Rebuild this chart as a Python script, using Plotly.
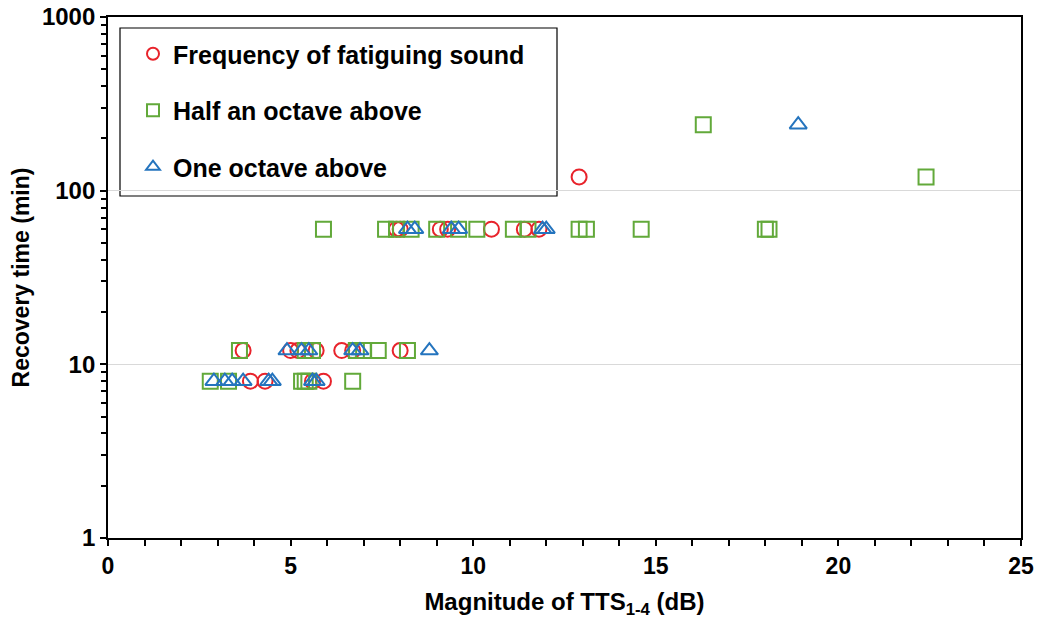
import plotly.graph_objects as go

# Recovery time (min) against TTS magnitude (dB), one list pair per probe frequency
freq_tts = [3.7, 5.0, 5.2, 5.7, 6.4, 6.7, 8.0,
            3.9, 4.3, 5.6, 5.9,
            7.9, 8.0, 9.1, 9.3, 10.5, 11.4, 11.8,
            12.9]
freq_rec = [12, 12, 12, 12, 12, 12, 12,
            8, 8, 8, 8,
            60, 60, 60, 60, 60, 60, 60,
            120]

half_tts = [3.6, 5.4, 5.6, 6.8, 7.0, 7.4, 8.2,
            2.8, 3.3, 5.3, 5.4, 5.5, 6.7,
            5.9, 7.6, 7.9, 8.3, 9.0, 9.6, 10.1, 11.1, 11.5, 12.9, 13.1, 14.6, 18.0, 18.1,
            16.3, 22.4]
half_rec = [12, 12, 12, 12, 12, 12, 12,
            8, 8, 8, 8, 8, 8,
            60, 60, 60, 60, 60, 60, 60, 60, 60, 60, 60, 60, 60, 60,
            240, 120]

oct_tts = [4.9, 5.3, 5.5, 6.7, 6.9, 8.8,
           2.9, 3.2, 3.4, 3.7, 4.4, 4.5, 5.6, 5.7,
           8.2, 8.4, 9.4, 9.6, 11.9, 12.0,
           18.9]
oct_rec = [12, 12, 12, 12, 12, 12,
           8, 8, 8, 8, 8, 8, 8, 8,
           60, 60, 60, 60, 60, 60,
           240]

series_names = ["Frequency of fatiguing sound", "Half an octave above", "One octave above"]
x_ticks = [0, 5, 10, 15, 20, 25]
y_ticks = [1, 10, 100, 1000]

FONT = "Liberation Sans, Arial, sans-serif"
RED, GREEN, BLUE = "#E8232B", "#62A93A", "#2474BE"

fig = go.Figure()
specs = [
    (freq_tts, freq_rec, series_names[0], "circle-open", RED, 15),
    (half_tts, half_rec, series_names[1], "square-open", GREEN, 15),
    (oct_tts, oct_rec, series_names[2], "triangle-up-open", BLUE, 15),
]
for i, (xs, ys, name, sym, col, sz) in enumerate(specs):
    fig.add_trace(go.Scatter(
        x=xs, y=ys, name=name, mode="markers", legendgroup=f"g{i}",
        marker=dict(symbol=sym, size=sz, color=col, line=dict(color=col, width=2)),
    ))

# legend frame
fig.add_shape(type="rect", xref="paper", yref="paper",
              x0=(120 - 108) / 913, x1=(557 - 108) / 913,
              y0=(538 - 196) / 521, y1=(538 - 28) / 521,
              line=dict(color="black", width=1.2), fillcolor="white", layer="below")

fig.update_layout(
    width=1045, height=619,
    margin=dict(l=108, r=24, t=17, b=81, autoexpand=False),
    paper_bgcolor="white", plot_bgcolor="white",
    font=dict(family=FONT, color="black", size=22),
    showlegend=True,
    legend=dict(
        x=(133 - 108) / 913, y=(538 - 31) / 521, xanchor="left", yanchor="top",
        bgcolor="rgba(0,0,0,0)", borderwidth=0,
        font=dict(family=FONT, size=25, color="black", weight="bold"),
        tracegroupgap=21, itemsizing="constant",
    ),
    xaxis=dict(
        range=[0, 25], tickvals=x_ticks, ticktext=[str(v) for v in x_ticks],
        ticks="outside", ticklen=6, tickwidth=1.5, tickcolor="black",
        minor=dict(dtick=1, ticks="outside", ticklen=6, tickwidth=1.5, tickcolor="black", showgrid=False),
        showline=True, linecolor="black", linewidth=1.8, mirror=True,
        showgrid=False, zeroline=False, automargin=False,
        tickfont=dict(family=FONT, size=23, weight="bold"),
        title=dict(text="Magnitude of TTS<sub>1-4</sub> (dB)",
                   font=dict(family=FONT, size=24, weight="bold"), standoff=16),
    ),
    yaxis=dict(
        type="log", range=[0, 3], tickvals=y_ticks, ticktext=[str(v) for v in y_ticks],
        ticks="outside", ticklen=6, tickwidth=1.5, tickcolor="black",
        minor=dict(dtick="D1", ticks="outside", ticklen=5, tickwidth=1.5, tickcolor="black", showgrid=False),
        showline=True, linecolor="black", linewidth=1.8, mirror=True,
        showgrid=True, gridcolor="#D9D9D9", gridwidth=1, zeroline=False, automargin=False,
        tickfont=dict(family=FONT, size=24, weight="bold"),
        title=dict(text="Recovery time (min)",
                   font=dict(family=FONT, size=23, weight="bold"), standoff=6),
    ),
)

fig.write_html("out.html")
